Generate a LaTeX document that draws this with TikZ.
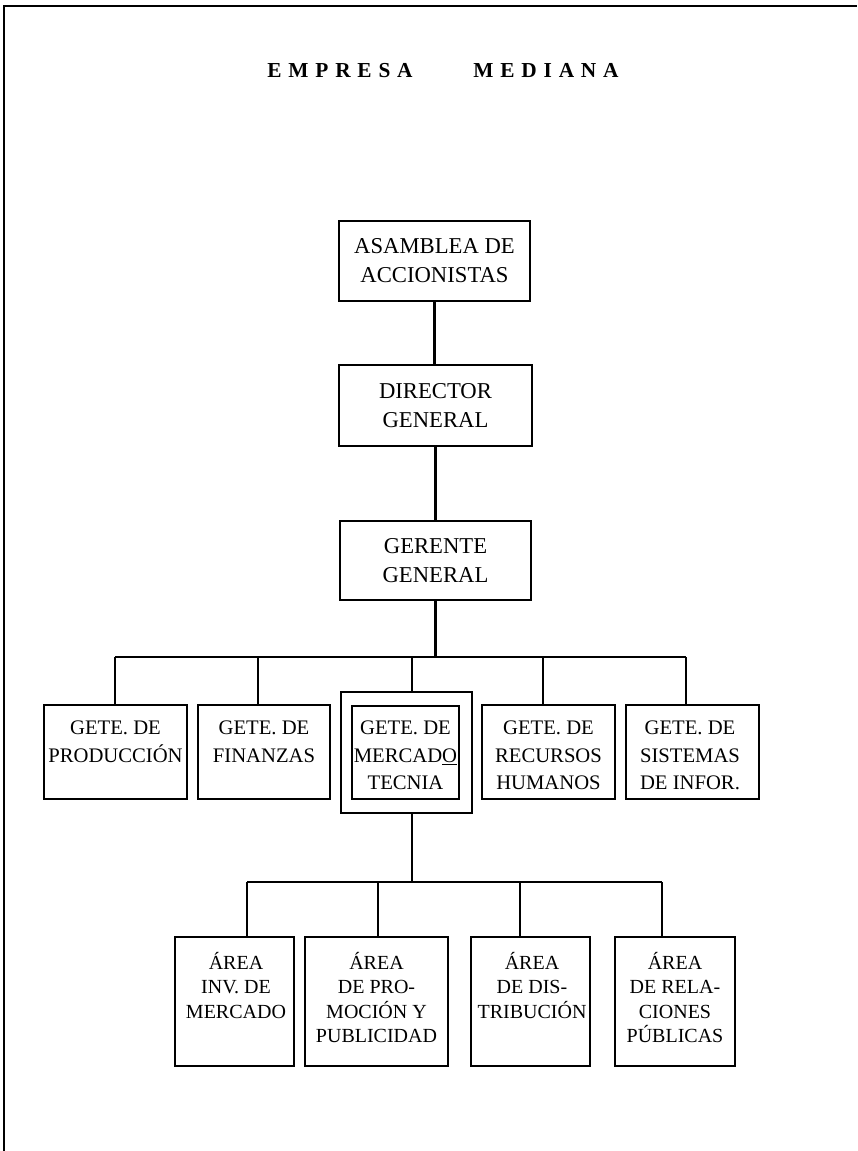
\documentclass[tikz,border=0pt]{standalone}
\usepackage{fontspec}
\setmainfont{Liberation Serif}
\newcommand{\unitpx}{0.75pt}
\tikzset{
  frame/.style={line width=1.6pt},
  link/.style={line width=1.9pt},
  box/.style={draw, line width=2.1pt, inner sep=0pt, align=center},
  headbox/.style={box, font=\fontsize{17}{21.75}\selectfont},
  boxtext/.style={anchor=north, inner sep=0pt, align=center, font=\fontsize{15.5}{20.6}\selectfont},
  areatext/.style={boxtext, font=\fontsize{15}{18.3}\selectfont},
  titletext/.style={anchor=base, inner sep=0pt, font=\fontsize{16}{18}\selectfont\bfseries\addfontfeature{LetterSpace=32}},
}
\begin{document}
\begin{tikzpicture}[x=0.75pt, y=-0.75pt]
\useasboundingbox (0,0) rectangle (857,1151);
% page frame
\coordinate (corner) at (4,6);
\draw[frame] (4,1151) -- (corner) -- (857,6);
% title
\node[titletext] (titleA) at (340,78) {EMPRESA};
\node[titletext] (titleB) at (546,78) {MEDIANA};
% top of the chart
\node[headbox, minimum width=191*\unitpx, minimum height=80*\unitpx] (asam) at (434.5,261) {ASAMBLEA DE\\ACCIONISTAS};
\node[headbox, minimum width=193*\unitpx, minimum height=81*\unitpx] (dir) at (435.5,405.5) {DIRECTOR\\GENERAL};
\node[headbox, minimum width=191*\unitpx, minimum height=79*\unitpx] (ger) at (435.5,560.5) {GERENTE\\GENERAL};
\draw[link] (asam.south) -- (asam.south |- dir.north);
\draw[link] (dir.south) -- (dir.south |- ger.north);
% gerencias
\node[box, minimum width=143*\unitpx, minimum height=94*\unitpx] (prod) at (115.5,752) {};
\node[box, minimum width=132*\unitpx, minimum height=94*\unitpx] (fin) at (264,752) {};
\node[box, minimum width=131*\unitpx, minimum height=121*\unitpx] (mercout) at (406.5,752.5) {};
\node[box, minimum width=107*\unitpx, minimum height=93*\unitpx] (mercin) at (405.5,752.5) {};
\node[box, minimum width=133*\unitpx, minimum height=94*\unitpx] (rec) at (548.5,752) {};
\node[box, minimum width=133*\unitpx, minimum height=94*\unitpx] (sis) at (692.5,752) {};
\node[boxtext] (prodT) at (115.5,721) {GETE. DE\\PRODUCCIÓN};
\node[boxtext] (finT) at (264,721) {GETE. DE\\FINANZAS};
\node[boxtext] (mercT) at (405.5,721) {GETE. DE\\MERCAD\underline{O}\\TECNIA};
\node[boxtext] (recT) at (548.5,721) {GETE. DE\\RECURSOS\\HUMANOS};
\node[boxtext] (sisT) at (690,721) {GETE. DE\\SISTEMAS\\DE INFOR.};
\coordinate (busL) at (115,657);
\coordinate (busR) at (686,657);
\coordinate (jfin) at (258,657);
\coordinate (jmerc) at (412,657);
\coordinate (jrec) at (543,657);
\draw[link] (ger.south) -- (ger.south |- busL);
\draw[link] (busL) -- (busR);
\draw[link] (busL) -- (busL |- prod.north);
\draw[link] (jfin) -- (jfin |- fin.north);
\draw[link] (jmerc) -- (jmerc |- mercout.north);
\draw[link] (jrec) -- (jrec |- rec.north);
\draw[link] (busR) -- (busR |- sis.north);
% areas de mercadotecnia
\node[box, minimum width=119*\unitpx, minimum height=129*\unitpx] (invm) at (234.5,1001.5) {};
\node[box, minimum width=143*\unitpx, minimum height=129*\unitpx] (prom) at (376.5,1001.5) {};
\node[box, minimum width=119*\unitpx, minimum height=129*\unitpx] (dist) at (530.5,1001.5) {};
\node[box, minimum width=120*\unitpx, minimum height=129*\unitpx] (relp) at (675,1001.5) {};
\node[areatext] (invmT) at (236,952) {ÁREA\\INV. DE\\MERCADO};
\node[areatext] (promT) at (376.5,952) {ÁREA\\DE PRO-\\MOCIÓN Y\\PUBLICIDAD};
\node[areatext] (distT) at (532,952) {ÁREA\\DE DIS-\\TRIBUCIÓN};
\node[areatext] (relpT) at (675,952) {ÁREA\\DE RELA-\\CIONES\\PÚBLICAS};
\coordinate (lowL) at (247,882);
\coordinate (lowR) at (662,882);
\coordinate (jprom) at (378,882);
\coordinate (jdist) at (520,882);
\draw[link] (mercout.south -| jmerc) -- (lowL -| jmerc);
\draw[link] (lowL) -- (lowR);
\draw[link] (lowL) -- (lowL |- invm.north);
\draw[link] (jprom) -- (jprom |- prom.north);
\draw[link] (jdist) -- (jdist |- dist.north);
\draw[link] (lowR) -- (lowR |- relp.north);
\end{tikzpicture}
\end{document}
